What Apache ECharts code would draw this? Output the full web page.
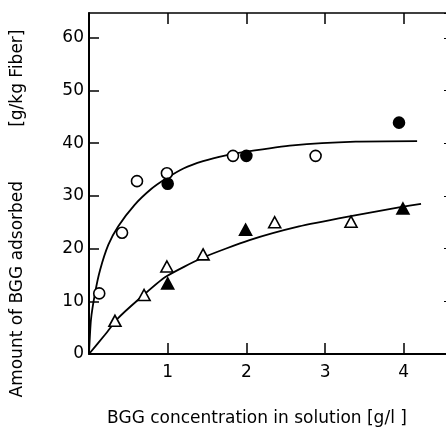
<!DOCTYPE html>
<html>
<head>
<meta charset="utf-8">
<script src="https://cdn.jsdelivr.net/npm/echarts@6/dist/echarts.min.js"></script>
<style>
  html, body { margin: 0; padding: 0; background: #fff; }
  #chart { width: 446px; height: 427px; }
</style>
</head>
<body>
<div id="chart"></div>
<script>
// points: [concentration g/l, adsorbed g/kg]
const openCircles = [[0.13, 11.5], [0.42, 23.0], [0.61, 32.8], [0.99, 34.3], [1.83, 37.6], [2.88, 37.6]];
const filledCircles = [[1.0, 32.3], [2.0, 37.6], [3.94, 43.9]];
const openTriangles = [[0.33, 6.3], [0.70, 11.2], [0.99, 16.6], [1.45, 18.9], [2.36, 25.0], [3.33, 25.1]];
const filledTriangles = [[1.0, 13.4], [1.99, 23.6], [3.99, 27.6]];

// fitted curves
const upperCurve = [[0, 0], [0.025, 6.5], [0.076, 11.5], [0.14, 15.9], [0.245, 20.7], [0.37, 24.2],
  [0.58, 28.3], [0.79, 31.3], [0.97, 33.2], [1.2, 35.2], [1.45, 36.6], [1.74, 37.7],
  [2.0, 38.4], [2.59, 39.6], [3.39, 40.3], [4.17, 40.4]];
const lowerCurve = [[0, 0], [0.2, 3.6], [0.37, 6.8], [0.625, 10.3], [0.97, 14.6], [1.45, 18.3],
  [2.04, 21.6], [2.67, 24.2], [3.31, 26.1], [3.94, 27.8], [4.22, 28.5]];

const xTicks = ['1', '2', '3', '4'];
const yTicks = ['0', '10', '20', '30', '40', '50', '60'];

const ink = '#000';
const font = 'DejaVu Sans';

const chart = echarts.init(document.getElementById('chart'));

const lineSeries = (data) => ({
  type: 'line', data: data, smooth: 0.2, showSymbol: false,
  lineStyle: { color: ink, width: 1.8 }, z: 2, silent: true
});
const markSeries = (data, symbol, size, filled) => ({
  type: 'scatter', data: data, symbol: symbol, symbolSize: size, z: 3,
  itemStyle: { color: filled ? ink : '#fff', borderColor: ink, borderWidth: 1.6, opacity: 1 }
});

chart.setOption({
  animation: false,
  backgroundColor: '#fff',
  grid: { left: 89, top: 13, right: -1, bottom: 73, outerBoundsMode: 'none', containLabel: false },
  xAxis: [{
    type: 'value', min: 0, max: 4.55, interval: 1, position: 'bottom',
    name: 'BGG concentration in solution [g/l ]', nameLocation: 'middle', nameGap: 56,
    nameTextStyle: { fontFamily: font, fontSize: 17, color: ink, padding: [0, 22, 0, 0] },
    axisLine: { onZero: false, lineStyle: { color: ink, width: 1.8 } },
    axisTick: { inside: true, length: 11, lineStyle: { color: ink, width: 1.5 } },
    axisLabel: {
      fontFamily: font, fontSize: 17, color: ink, margin: 10,
      showMinLabel: false, showMaxLabel: false,
      formatter: v => xTicks.includes(String(v)) ? String(v) : ''
    },
    splitLine: { show: false }
  }, {
    type: 'value', min: 0, max: 4.55, interval: 1, position: 'top',
    axisLine: { onZero: false, lineStyle: { color: ink, width: 1.5 } },
    axisTick: { inside: true, length: 11, lineStyle: { color: ink, width: 1.5 } },
    axisLabel: { show: false },
    splitLine: { show: false }
  }],
  yAxis: [{
    type: 'value', min: 0, max: 64.7, interval: 10, position: 'left',
    name: 'Amount of BGG adsorbed          [g/kg Fiber]', nameLocation: 'middle', nameGap: 63,
    nameTextStyle: { fontFamily: font, fontSize: 17, color: ink, padding: [0, 60, 0, 0] },
    axisLine: { onZero: false, lineStyle: { color: ink, width: 2 } },
    axisTick: { inside: true, length: 10, lineStyle: { color: ink, width: 1.5 } },
    axisLabel: {
      fontFamily: font, fontSize: 17, color: ink, margin: 5, showMaxLabel: false,
      formatter: v => yTicks.includes(String(v)) ? String(v) : ''
    },
    splitLine: { show: false }
  }, {
    type: 'value', min: 0, max: 64.7, interval: 10, position: 'right',
    axisLine: { onZero: false, lineStyle: { color: ink, width: 1 } },
    axisTick: { inside: true, length: 3, lineStyle: { color: ink, width: 1 } },
    axisLabel: { show: false },
    splitLine: { show: false }
  }],
  series: [
    lineSeries(upperCurve),
    lineSeries(lowerCurve),
    markSeries(openCircles, 'circle', 11, false),
    markSeries(filledCircles, 'circle', 11, true),
    markSeries(openTriangles, 'triangle', [12, 11], false),
    markSeries(filledTriangles, 'triangle', [12, 11], true)
  ]
});
</script>
</body>
</html>
